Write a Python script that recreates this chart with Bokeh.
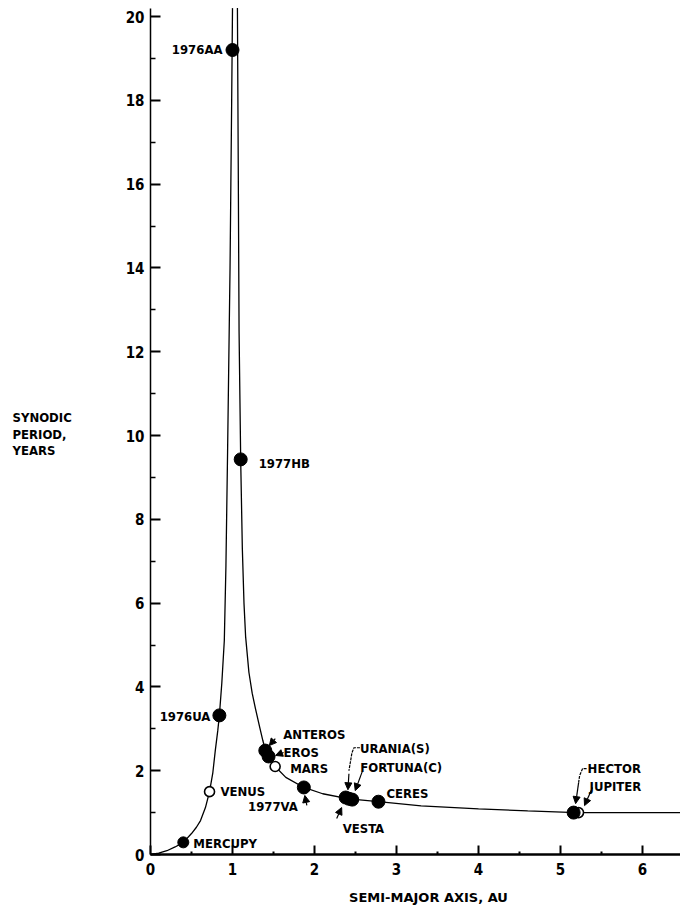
from bokeh.plotting import figure
from bokeh.models import Range1d, FixedTicker, Arrow, NormalHead
from bokeh.core.properties import value
from bokeh.embed import file_html
from bokeh.resources import INLINE

# ---- data ----
# theoretical synodic-period curve, inner branch (a < 1 AU)
left_a = [0.0, 0.1, 0.2, 0.3, 0.4, 0.5, 0.56, 0.61, 0.67, 0.72, 0.76, 0.79, 0.82, 0.84, 0.87,
          0.90, 0.92, 0.94, 0.955, 0.97, 0.98, 0.99, 1.0]
left_s = [0.0, 0.03, 0.09, 0.18, 0.29, 0.50, 0.65, 0.81, 1.12, 1.50, 1.95, 2.48, 2.95, 3.32, 4.1,
          5.1, 6.9, 9.6, 11.8, 14.0, 16.0, 18.0, 20.2]
# outer branch (a > 1 AU)
right_a = [1.06, 1.07, 1.08, 1.10, 1.12, 1.14, 1.16, 1.20, 1.24, 1.28, 1.33, 1.37, 1.40, 1.44,
           1.52, 1.65, 1.87, 2.10, 2.42, 2.78, 3.3, 4.0, 4.6, 5.19, 5.8, 6.46]
right_s = [20.2, 16.5, 12.5, 9.4, 7.3, 6.0, 5.2, 4.35, 3.85, 3.48, 3.05, 2.72, 2.50, 2.34,
           2.10, 1.84, 1.60, 1.45, 1.33, 1.26, 1.16, 1.09, 1.04, 1.00, 1.00, 1.00]

# bodies
names = ["MERCUPY", "VENUS", "1976UA", "1976AA", "1977HB", "ANTEROS", "EROS", "MARS",
         "1977VA", "VESTA", "URANIA(S)", "FORTUNA(C)", "CERES", "JUPITER", "HECTOR"]
semi_major = [0.40, 0.72, 0.84, 1.00, 1.10, 1.40, 1.44, 1.52, 1.87, 2.38, 2.42, 2.46, 2.78, 5.22, 5.16]
synodic = [0.29, 1.50, 3.32, 19.2, 9.43, 2.48, 2.34, 2.10, 1.60, 1.36, 1.33, 1.31, 1.26, 1.00, 1.00]
filled = [True, False, True, True, True, True, True, False, True, True, True, True, True, False, True]

x_ticks = [0, 1, 2, 3, 4, 5, 6]
x_minor = [0.5, 1.5, 2.5, 3.5, 4.5, 5.5]
y_ticks = [0, 2, 4, 6, 8, 10, 12, 14, 16, 18, 20]
y_minor = [1, 3, 5, 7, 9, 11, 13, 15, 17, 19]

x_title = "SEMI-MAJOR AXIS, AU"
y_title = ["SYNODIC", "PERIOD,", "YEARS"]

# ---- layout (pixels) ----
W, H = 680, 907
OX, OY = 150, 854          # pixel position of the origin
SX, SY = 82.0, 41.9        # px per AU, px per year
X0, X1 = -OX / SX, (W - OX) / SX
Y0, Y1 = -(H - OY) / SY, OY / SY

FONT = "DejaVu Sans Condensed, Liberation Sans Narrow, DejaVu Sans"

p = figure(width=W, height=H, output_backend="svg", toolbar_location=None,
           x_range=Range1d(X0, X1), y_range=Range1d(Y0, Y1),
           min_border_left=0, min_border_right=0, min_border_top=0, min_border_bottom=0)
p.outline_line_color = None
p.grid.visible = False
p.background_fill_color = "white"
p.border_fill_color = "white"

xa = p.xaxis[0]
xa.fixed_location = 0
xa.bounds = (0, X1)
xa.ticker = FixedTicker(ticks=x_ticks, minor_ticks=x_minor)
xa.axis_line_width = 2.5
xa.major_tick_in = 9
xa.major_tick_out = 0
xa.minor_tick_in = 3
xa.minor_tick_out = 0
xa.major_tick_line_width = 2
xa.minor_tick_line_width = 2
xa.major_label_text_font = FONT
xa.major_label_text_font_style = "bold"
xa.major_label_text_font_size = "15px"
xa.major_label_text_color = "black"
xa.major_label_standoff = 8

ya = p.yaxis[0]
ya.fixed_location = 0
ya.bounds = (0, 20.2)
ya.ticker = FixedTicker(ticks=y_ticks, minor_ticks=y_minor)
ya.axis_line_width = 1.5
ya.major_tick_in = 10
ya.major_tick_out = 0
ya.minor_tick_in = 5
ya.minor_tick_out = 0
ya.major_tick_line_width = 2
ya.minor_tick_line_width = 1.5
ya.major_label_text_font = FONT
ya.major_label_text_font_style = "bold"
ya.major_label_text_font_size = "15px"
ya.major_label_text_color = "black"
ya.major_label_standoff = 6

# curve
p.line(left_a, left_s, line_color="black", line_width=1.3)
p.line(right_a, right_s, line_color="black", line_width=1.3)

# points
open_a = [a for a, f in zip(semi_major, filled) if not f]
open_s = [s for s, f in zip(synodic, filled) if not f]
full_a = [a for a, f in zip(semi_major, filled) if f]
full_s = [s for s, f in zip(synodic, filled) if f]
full_sz = [11 if n == "MERCUPY" else 13 for n, f in zip(names, filled) if f]
p.scatter(open_a, open_s, size=10, fill_color="white", line_color="black", line_width=1.6)
p.scatter(full_a, full_s, size=full_sz, fill_color="black", line_color="black")

idx = {n: i for i, n in enumerate(names)}


def pos(name, dx, dy):
    i = idx[name]
    return semi_major[i] + dx / SX, synodic[i] - dy / SY


# label placement: (dx px, dy px downward, align)
label_style = {
    "MERCUPY": (10, 1, "left"),
    "VENUS": (11, 0, "left"),
    "1976UA": (-9, 1, "right"),
    "1976AA": (-10, -1, "right"),
    "1977HB": (18, 4, "left"),
    "ANTEROS": (18, -16, "left"),
    "EROS": (15, -4, "left"),
    "MARS": (15, 2, "left"),
    "1977VA": (-6, 19, "right"),
    "VESTA": (-3, 31, "left"),
    "URANIA(S)": (11, -50, "left"),
    "FORTUNA(C)": (8, -32, "left"),
    "CERES": (8, -8, "left"),
    "HECTOR": (14, -44, "left"),
    "JUPITER": (11, -26, "left"),
}
for n, (dx, dy, al) in label_style.items():
    x, y = pos(n, dx, dy)
    p.text([x], [y], text=[n], text_font=value(FONT), text_font_style="bold",
           text_font_size="13px", text_align=al, text_baseline="middle", text_color="black")

# leader lines (polyline offsets px from target point) and arrows
leaders = {
    "URANIA(S)": [(11, -51), (5, -51), (3, -46), (0, -28)],
    "HECTOR": [(13, -44), (9, -44), (6, -37), (5, -30)],
}
for n, pts in leaders.items():
    xs, ys = zip(*[pos(n, dx, dy) for dx, dy in pts])
    p.line(list(xs), list(ys), line_color="black", line_width=1.2, line_dash="3 1")

arrows = {
    "ANTEROS": ((10, -12), (4, -5)),
    "EROS": ((15, -4), (7, -1)),
    "URANIA(S)": ((0, -25), (-1, -9)),
    "FORTUNA(C)": ((10, -28), (3, -9)),
    "VESTA": ((-9, 21), (-4, 10)),
    "1977VA": ((3, 18), (1, 8)),
    "HECTOR": ((5, -30), (2, -9)),
    "JUPITER": ((14, -25), (6, -7)),
}
for n, ((dx0, dy0), (dx1, dy1)) in arrows.items():
    x0, y0 = pos(n, dx0, dy0)
    x1, y1 = pos(n, dx1, dy1)
    p.add_layout(Arrow(x_start=x0, y_start=y0, x_end=x1, y_end=y1,
                       line_color="black", line_width=1.2,
                       end=NormalHead(size=7, fill_color="black", line_color="black")))

# axis titles (drawn as text in the plotting area, positions in px from the origin)
p.text([(428 - OX) / SX], [-(897 - OY) / SY], text=[x_title],
       text_font=value("DejaVu Sans"), text_font_size="13px", text_font_style="bold",
       text_align="center", text_baseline="middle", text_color="black")
p.text([(12 - OX) / SX] * 3, [(OY - 417 - 16.5 * k) / SY for k in range(3)], text=y_title,
       text_font=value(FONT), text_font_size="13px", text_font_style="bold",
       text_align="left", text_baseline="middle", text_color="black")

open("out.html", "w").write(file_html(p, INLINE))
